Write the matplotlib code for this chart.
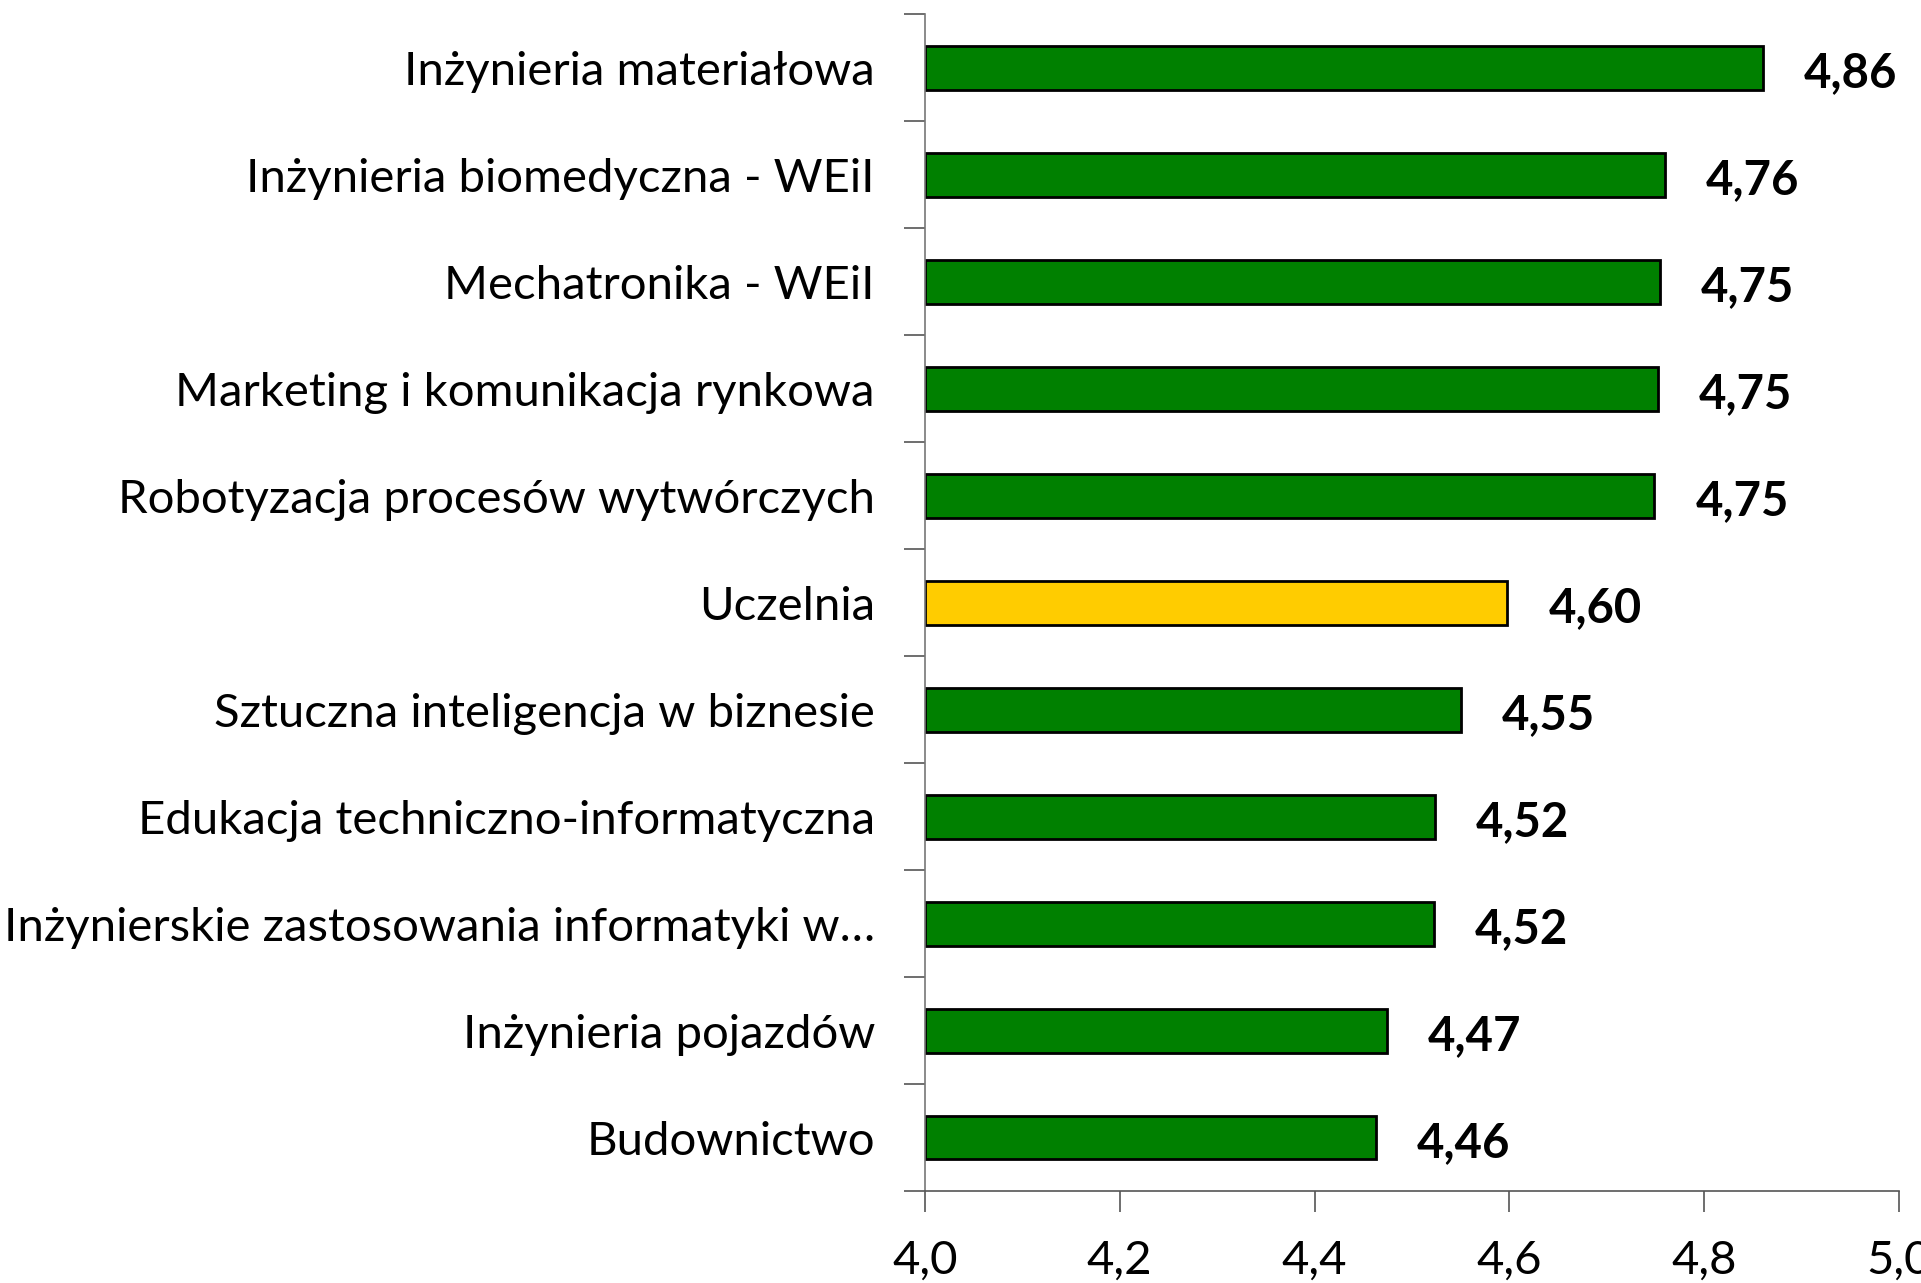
import numpy as np
import matplotlib
matplotlib.use("Agg")
import matplotlib.pyplot as plt

categories = [
    "Inżynieria materiałowa",
    "Inżynieria biomedyczna - WEiI",
    "Mechatronika - WEiI",
    "Marketing i komunikacja rynkowa",
    "Robotyzacja procesów wytwórczych",
    "Uczelnia",
    "Sztuczna inteligencja w biznesie",
    "Edukacja techniczno-informatyczna",
    "Inżynierskie zastosowania informatyki w…",
    "Inżynieria pojazdów",
    "Budownictwo",
]
values = [4.86, 4.76, 4.755, 4.753, 4.749, 4.598, 4.55, 4.524, 4.523, 4.474, 4.463]
labels = ["4,86", "4,76", "4,75", "4,75", "4,75", "4,60", "4,55", "4,52", "4,52", "4,47", "4,46"]
xticks = [4.0, 4.2, 4.4, 4.6, 4.8, 5.0]
xtick_labels = ["4,0", "4,2", "4,4", "4,6", "4,8", "5,0"]

plt.rcParams["font.family"] = ["Lato", "DejaVu Sans"]

fig = plt.figure(figsize=(19.21, 12.83), dpi=100)
ax = fig.add_axes([0.4815, 0.0717, 0.507, 0.917])

y = np.arange(len(categories))
colors = ["#FFCC00" if c == "Uczelnia" else "#008000" for c in categories]
ax.barh(y, np.array(values) - 4.0, left=4.0, height=0.41, color=colors,
        edgecolor="black", linewidth=2)

for yi, v, lab in zip(y, values, labels):
    ax.text(v + 0.042, yi + 0.05, lab, va="center", ha="left",
            fontsize=34, fontweight="bold")

ax.set_xlim(4.0, 5.0)
ax.set_ylim(len(categories) - 0.5, -0.5)
ax.set_xticks(xticks)
ax.set_xticklabels(xtick_labels, fontsize=34)
ax.set_yticks(y)
ax.set_yticklabels(categories, fontsize=34)
ax.set_yticks(np.arange(-0.5, len(categories), 1.0), minor=True)

ax.tick_params(axis="y", which="major", length=0, pad=36)
ax.tick_params(axis="y", which="minor", length=15, color="#555555", width=1.2)
ax.tick_params(axis="x", length=15, color="#555555", width=1.2, pad=20)

for s in ["top", "right"]:
    ax.spines[s].set_visible(False)
ax.spines["left"].set_color("#777777")
ax.spines["bottom"].set_color("#555555")
ax.spines["left"].set_linewidth(1.2)
ax.spines["bottom"].set_linewidth(1.2)

fig.savefig("out.png", dpi=100)
